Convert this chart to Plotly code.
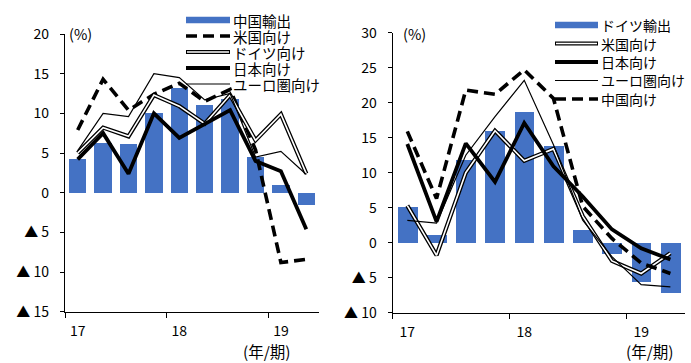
import plotly.graph_objects as go

# ---- data -------------------------------------------------------------
quarters = ["17Q1", "17Q2", "17Q3", "17Q4", "18Q1", "18Q2", "18Q3", "18Q4", "19Q1", "19Q2"]
year_labels = ["17", "18", "19"]

# China: exports (bars) and exports by destination (lines), % y/y
cn_exports = [4.2, 6.2, 6.1, 10.0, 13.2, 11.1, 11.8, 4.5, 1.0, -1.5]
cn_to_us = [7.9, 14.3, 10.4, 12.4, 13.8, 11.5, 13.0, 5.4, -8.8, -8.4]
cn_to_de = [5.0, 8.2, 7.1, 12.3, 10.9, 8.7, 12.3, 6.6, 9.9, 2.4]
cn_to_jp = [4.2, 7.5, 2.4, 10.0, 6.9, 8.7, 10.4, 4.0, 2.7, -4.6]
cn_to_ea = [5.3, 10.0, 9.6, 15.0, 14.5, 11.7, 12.5, 4.5, 5.2, 2.3]

# Germany: exports (bars) and exports by destination (lines), % y/y
de_exports = [5.1, 1.2, 11.9, 16.0, 18.7, 13.9, 1.8, -1.6, -5.5, -7.1]
de_to_us = [5.3, -1.8, 10.0, 16.0, 11.7, 13.4, 3.8, -2.6, -4.4, -1.5]
de_to_jp = [14.1, 3.0, 14.2, 8.7, 17.1, 10.9, 6.6, 1.9, -0.8, -2.4]
de_to_ea = [3.2, 2.8, 12.5, 18.0, 23.2, 14.0, 3.2, -2.0, -6.0, -6.3]
de_to_cn = [15.9, 6.3, 21.8, 21.2, 24.7, 20.6, 5.2, 0.6, -2.9, -4.4]

left_ticks = [-15, -10, -5, 0, 5, 10, 15, 20]
right_ticks = [-10, -5, 0, 5, 10, 15, 20, 25, 30]

# ---- styling ----------------------------------------------------------
W, H = 691, 363
FONT = "Noto Sans CJK JP"
BLUE = "#4472C4"
DASH = "11px,6px"
xpos = list(range(len(quarters)))
year_pos = [i for i, q in enumerate(quarters) if q.endswith("Q1")]
year_edges = [p - 0.5 for p in year_pos]


def tick_text(v):
    return f"▲ {abs(v)}" if v < 0 else str(v)


def px(x):
    return x / W


def py(y):
    return 1 - y / H


fig = go.Figure()


def add_panel(xa, ya, bars, lines):
    fig.add_trace(go.Bar(x=xpos, y=bars, width=0.68, marker=dict(color=BLUE, line=dict(width=0)),
                         xaxis=xa, yaxis=ya, showlegend=False))
    for kind, vals in lines:
        if kind == "dash":
            fig.add_trace(go.Scatter(x=xpos, y=vals, mode="lines", xaxis=xa, yaxis=ya, showlegend=False,
                                     line=dict(color="black", width=3.6, dash=DASH)))
        elif kind == "double":
            fig.add_trace(go.Scatter(x=xpos, y=vals, mode="lines", xaxis=xa, yaxis=ya, showlegend=False,
                                     line=dict(color="black", width=4.2)))
            fig.add_trace(go.Scatter(x=xpos, y=vals, mode="lines", xaxis=xa, yaxis=ya, showlegend=False,
                                     line=dict(color="white", width=1.6)))
        elif kind == "thick":
            fig.add_trace(go.Scatter(x=xpos, y=vals, mode="lines", xaxis=xa, yaxis=ya, showlegend=False,
                                     line=dict(color="black", width=3.8)))
        else:
            fig.add_trace(go.Scatter(x=xpos, y=vals, mode="lines", xaxis=xa, yaxis=ya, showlegend=False,
                                     line=dict(color="black", width=1.2)))


add_panel("x", "y", cn_exports,
          [("dash", cn_to_us), ("double", cn_to_de), ("thick", cn_to_jp), ("thin", cn_to_ea)])
add_panel("x2", "y2", de_exports,
          [("double", de_to_us), ("thick", de_to_jp), ("thin", de_to_ea), ("dash", de_to_cn)])

shapes = []
annotations = []


def legend_entry(kind, x0, x1, yc, text, size):
    if kind == "bar":
        shapes.append(dict(type="rect", xref="paper", yref="paper", x0=px(x0), x1=px(x1),
                           y0=py(yc + 3.3), y1=py(yc - 3.3), fillcolor=BLUE, line=dict(width=0)))
    elif kind == "double":
        shapes.append(dict(type="line", xref="paper", yref="paper", x0=px(x0), x1=px(x1),
                           y0=py(yc), y1=py(yc), line=dict(color="black", width=4.2)))
        shapes.append(dict(type="line", xref="paper", yref="paper", x0=px(x0 + 1), x1=px(x1 - 1),
                           y0=py(yc), y1=py(yc), line=dict(color="white", width=1.6)))
    else:
        width = {"dash": 3.6, "thick": 3.8, "thin": 1.2}[kind]
        dash = DASH if kind == "dash" else "solid"
        shapes.append(dict(type="line", xref="paper", yref="paper", x0=px(x0), x1=px(x1),
                           y0=py(yc), y1=py(yc), line=dict(color="black", width=width, dash=dash)))
    annotations.append(dict(text=text, xref="paper", yref="paper", x=px(x1 + 2), y=py(yc),
                            xanchor="left", yanchor="middle", showarrow=False, borderpad=0,
                            font=dict(family=FONT, size=size, color="black")))


left_legend = [("bar", "中国輸出"), ("dash", "米国向け"), ("double", "ドイツ向け"),
               ("thick", "日本向け"), ("thin", "ユーロ圏向け")]
for i, (k, t) in enumerate(left_legend):
    legend_entry(k, 186, 230, 20 + i * 16, t, 14.5)

right_legend = [("bar", "ドイツ輸出"), ("double", "米国向け"), ("thick", "日本向け"),
                ("thin", "ユーロ圏向け"), ("dash", "中国向け")]
for i, (k, t) in enumerate(right_legend):
    legend_entry(k, 555, 598, 25 + i * 18.5, t, 14)

for x, y, t, s in [(80.5, 33, "(%)", 14.5), (414, 33, "(%)", 14.5),
                   (267, 351, "(年/期)", 15.5), (650, 351, "(年/期)", 15.5)]:
    annotations.append(dict(text=t, xref="paper", yref="paper", x=px(x), y=py(y),
                            xanchor="center", yanchor="middle", showarrow=False, borderpad=0,
                            font=dict(family=FONT, size=s, color="black")))


def xaxis_cfg(dom, anchor):
    return dict(domain=dom, anchor=anchor, range=[-0.5, len(quarters) - 0.5], automargin=False,
                tickmode="array", tickvals=year_pos, ticktext=year_labels,
                ticks="outside", ticklen=6, tickcolor="rgba(0,0,0,0)",
                minor=dict(tickmode="array", tickvals=year_edges, ticks="outside",
                           ticklen=5, tickwidth=1.3, tickcolor="black"),
                showline=True, linecolor="black", linewidth=1.3,
                showgrid=False, zeroline=False,
                tickfont=dict(family=FONT, size=14, color="black"))


def yaxis_cfg(dom, anchor, ticks):
    return dict(domain=dom, anchor=anchor, range=[ticks[0], ticks[-1]], automargin=False,
                tickmode="array", tickvals=ticks, ticktext=[tick_text(v) for v in ticks],
                ticks="outside", ticklen=4, tickwidth=1.3, tickcolor="black",
                ticklabelstandoff=8,
                showline=True, linecolor="black", linewidth=1.3,
                showgrid=False, zeroline=False,
                tickfont=dict(family=FONT, size=14, color="black"))


fig.update_layout(
    template="none",
    width=W, height=H,
    margin=dict(l=0, r=0, t=0, b=0, pad=0, autoexpand=False),
    paper_bgcolor="white", plot_bgcolor="rgba(0,0,0,0)",
    showlegend=False, bargap=0,
    xaxis=xaxis_cfg([px(65), px(319)], "y"),
    yaxis=yaxis_cfg([py(311.7), py(34)], "x", left_ticks),
    xaxis2=xaxis_cfg([px(392.7), px(685)], "y2"),
    yaxis2=yaxis_cfg([py(312.7), py(32.7)], "x2", right_ticks),
    shapes=shapes,
    annotations=annotations,
)

fig.write_html("out.html")
